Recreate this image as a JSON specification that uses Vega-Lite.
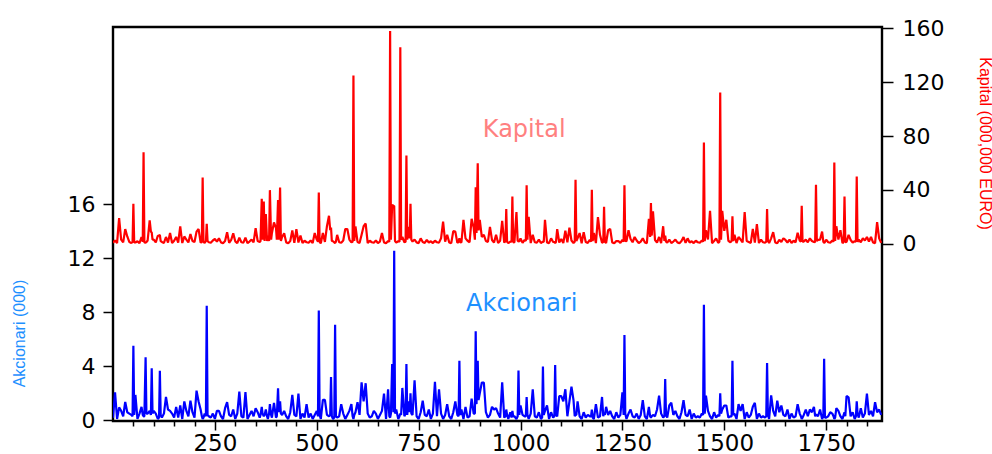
{
"$schema": "https://vega.github.io/schema/vega-lite/v6.json",
"width": 769,
"height": 394,
"autosize": {"type": "none"},
"padding": {"left": 113, "top": 27, "right": 110, "bottom": 33},
"background": "white",
"config": {
  "view": {"stroke": "black", "strokeWidth": 2.4},
  "axis": {"grid": false, "domain": false, "tickColor": "black", "labelColor": "black", "labelFont": "DejaVu Sans", "tickWidth": 1.5}
},
"data": {"values": [
{"x":0,"a":0.2,"k":0.8},{"x":5,"a":2.07,"k":2.4},{"x":10,"a":0.1,"k":0.5},{"x":15,"a":0.96,"k":19},{"x":20,"a":0.7,"k":3.1},{"x":25,"a":0.3,"k":1.0},{"x":30,"a":1.36,"k":10.9},{"x":35,"a":0.6,"k":5.4},{"x":40,"a":0.5,"k":1.3},{"x":45,"a":0.4,"k":0.6},
{"x":50,"a":5.53,"k":29.7},{"x":55,"a":1.88,"k":0.9},{"x":60,"a":0.1,"k":1.8},{"x":65,"a":0.5,"k":0.5},{"x":70,"a":1.0,"k":5},{"x":75,"a":0.3,"k":68},{"x":80,"a":4.67,"k":0.8},{"x":85,"a":0.5,"k":2.4},{"x":90,"a":0.7,"k":17.3},{"x":95,"a":3.85,"k":8.4},
{"x":100,"a":0.7,"k":3.1},{"x":105,"a":0.5,"k":1.0},{"x":110,"a":0.1,"k":5.9},{"x":115,"a":3.68,"k":6.6},{"x":120,"a":0.2,"k":1.3},{"x":125,"a":0.5,"k":0.6},{"x":130,"a":1.73,"k":5},{"x":135,"a":0.8,"k":0.9},{"x":140,"a":0.7,"k":7.9},{"x":145,"a":0.5,"k":0.5},
{"x":150,"a":0.2,"k":2.2},{"x":155,"a":1.0,"k":5},{"x":160,"a":0.2,"k":0.8},{"x":165,"a":1.1,"k":12.9},{"x":170,"a":0.1,"k":0.5},{"x":175,"a":1.4,"k":5.4},{"x":180,"a":0.7,"k":3.1},{"x":185,"a":0.3,"k":1.0},{"x":190,"a":1.45,"k":7.2},{"x":195,"a":0.6,"k":2.0},
{"x":200,"a":0.2,"k":1.3},{"x":205,"a":2.2,"k":9},{"x":210,"a":1.4,"k":10.9},{"x":215,"a":0.8,"k":0.9},{"x":220,"a":0.1,"k":49.2},{"x":225,"a":0.5,"k":0.5},{"x":230,"a":8.5,"k":14.8},{"x":235,"a":0.3,"k":1.1},{"x":240,"a":0.2,"k":0.8},{"x":245,"a":0.5,"k":2.4},
{"x":250,"a":0.1,"k":3.5},{"x":255,"a":0.7,"k":1.6},{"x":260,"a":0.7,"k":4},{"x":265,"a":0.3,"k":1.0},{"x":270,"a":0.1,"k":0.4},{"x":275,"a":0.9,"k":2.0},{"x":280,"a":1.35,"k":8.6},{"x":285,"a":0.4,"k":0.6},{"x":290,"a":0.3,"k":2.8},{"x":295,"a":0.8,"k":7.7},
{"x":300,"a":0.1,"k":1.8},{"x":305,"a":0.5,"k":0.5},{"x":310,"a":2.13,"k":4.5},{"x":315,"a":0.3,"k":1.1},{"x":320,"a":0.2,"k":0.8},{"x":325,"a":2.1,"k":4.5},{"x":330,"a":0.1,"k":0.5},{"x":335,"a":0.4,"k":1.6},{"x":340,"a":0.7,"k":3.1},{"x":345,"a":0.3,"k":1.0},
{"x":350,"a":0.9,"k":11.6},{"x":355,"a":0.6,"k":2.0},{"x":360,"a":0.2,"k":1.3},{"x":365,"a":1.0,"k":33.4},{"x":370,"a":0.3,"k":31.4},{"x":375,"a":0.8,"k":22},{"x":380,"a":0.1,"k":6},{"x":385,"a":1.2,"k":39.8},{"x":390,"a":0.2,"k":8},{"x":395,"a":1.3,"k":15.8},
{"x":400,"a":0.2,"k":11.6},{"x":405,"a":2.37,"k":32.4},{"x":410,"a":1.4,"k":41.8},{"x":415,"a":0.4,"k":5},{"x":420,"a":0.7,"k":7.8},{"x":425,"a":0.3,"k":1.0},{"x":430,"a":0.1,"k":0.4},{"x":435,"a":0.6,"k":2.0},{"x":440,"a":1.88,"k":9.8},{"x":445,"a":0.4,"k":0.6},
{"x":450,"a":0.3,"k":10.9},{"x":455,"a":1.98,"k":0.9},{"x":460,"a":0.1,"k":6},{"x":465,"a":0.5,"k":0.5},{"x":470,"a":0.2,"k":2.2},{"x":475,"a":1.2,"k":1.1},{"x":480,"a":0.2,"k":0.8},{"x":485,"a":0.5,"k":2.4},{"x":490,"a":0.1,"k":0.5},{"x":495,"a":0.4,"k":7.9},
{"x":500,"a":0.7,"k":3.1},{"x":505,"a":8.13,"k":38},{"x":510,"a":0.1,"k":0.4},{"x":515,"a":1.52,"k":8},{"x":520,"a":1.52,"k":1.3},{"x":525,"a":0.4,"k":13},{"x":530,"a":0.3,"k":20.8},{"x":535,"a":3.21,"k":12},{"x":540,"a":0.1,"k":1.8},{"x":545,"a":7.09,"k":0.5},
{"x":550,"a":0.2,"k":6.6},{"x":555,"a":0.3,"k":1.1},{"x":560,"a":1.2,"k":0.8},{"x":565,"a":0.5,"k":2.4},{"x":570,"a":0.1,"k":10.9},{"x":575,"a":0.4,"k":10.9},{"x":580,"a":0.7,"k":3.1},{"x":585,"a":1.2,"k":1.0},{"x":590,"a":0.1,"k":124.9},{"x":595,"a":0.6,"k":12.8},
{"x":600,"a":1.35,"k":1.3},{"x":605,"a":0.4,"k":0.6},{"x":610,"a":2.81,"k":6.6},{"x":615,"a":1.4,"k":13},{"x":620,"a":2.75,"k":15},{"x":625,"a":0.5,"k":0.5},{"x":630,"a":0.2,"k":2.2},{"x":635,"a":0.3,"k":1.1},{"x":640,"a":0.7,"k":0.8},{"x":645,"a":0.5,"k":2.4},
{"x":650,"a":0.1,"k":0.5},{"x":655,"a":0.4,"k":1.6},{"x":660,"a":0.7,"k":7.9},{"x":665,"a":1.98,"k":1.0},{"x":670,"a":0.1,"k":0.4},{"x":675,"a":2.3,"k":2.0},{"x":680,"a":0.2,"k":158},{"x":685,"a":4.18,"k":28.9},{"x":690,"a":12.57,"k":28.2},{"x":695,"a":0.8,"k":0.9},
{"x":700,"a":0.1,"k":1.8},{"x":705,"a":0.5,"k":146},{"x":710,"a":2.4,"k":5},{"x":715,"a":0.3,"k":1.1},{"x":720,"a":4.18,"k":65.5},{"x":725,"a":1.4,"k":12.5},{"x":730,"a":2.0,"k":29.7},{"x":735,"a":0.4,"k":1.6},{"x":740,"a":2.96,"k":3.1},{"x":745,"a":0.3,"k":1.0},
{"x":750,"a":0.1,"k":0.4},{"x":755,"a":0.6,"k":4},{"x":760,"a":1.45,"k":1.3},{"x":765,"a":0.4,"k":0.6},{"x":770,"a":0.3,"k":2.8},{"x":775,"a":0.8,"k":0.9},{"x":780,"a":0.1,"k":1.8},{"x":785,"a":0.5,"k":0.5},{"x":790,"a":2.86,"k":2.2},{"x":795,"a":0.3,"k":1.1},
{"x":800,"a":2.3,"k":0.8},{"x":805,"a":0.5,"k":4},{"x":810,"a":0.1,"k":16.5},{"x":815,"a":0.4,"k":1.6},{"x":820,"a":1.2,"k":6.6},{"x":825,"a":0.3,"k":1.0},{"x":830,"a":0.1,"k":0.4},{"x":835,"a":0.6,"k":9.4},{"x":840,"a":1.4,"k":9},{"x":845,"a":0.4,"k":0.6},
{"x":850,"a":4.42,"k":4},{"x":855,"a":0.8,"k":0.9},{"x":860,"a":0.1,"k":17.8},{"x":865,"a":1.0,"k":4},{"x":870,"a":0.2,"k":2.2},{"x":875,"a":0.3,"k":1.1},{"x":880,"a":1.6,"k":18.5},{"x":885,"a":0.5,"k":12},{"x":890,"a":6.6,"k":42},{"x":895,"a":4.42,"k":59.8},
{"x":900,"a":2.0,"k":17.8},{"x":905,"a":2.8,"k":5},{"x":910,"a":2.8,"k":6.6},{"x":915,"a":0.6,"k":2.0},{"x":920,"a":0.2,"k":1.3},{"x":925,"a":0.4,"k":12.5},{"x":930,"a":1.0,"k":2.8},{"x":935,"a":0.8,"k":0.9},{"x":940,"a":0.9,"k":6.6},{"x":945,"a":0.5,"k":0.5},
{"x":950,"a":0.2,"k":2.2},{"x":955,"a":2.81,"k":17},{"x":960,"a":0.2,"k":0.8},{"x":965,"a":0.8,"k":25.7},{"x":970,"a":0.1,"k":0.5},{"x":975,"a":0.6,"k":1.6},{"x":980,"a":0.7,"k":35},{"x":985,"a":0.3,"k":1.0},{"x":990,"a":0.1,"k":23.5},{"x":995,"a":3.7,"k":2.0},
{"x":1000,"a":1.1,"k":4},{"x":1005,"a":0.4,"k":0.6},{"x":1010,"a":0.3,"k":2.8},{"x":1015,"a":1.73,"k":43.5},{"x":1020,"a":0.1,"k":20},{"x":1025,"a":0.5,"k":0.5},{"x":1030,"a":2.3,"k":6.6},{"x":1035,"a":0.3,"k":1.1},{"x":1040,"a":0.2,"k":0.8},{"x":1045,"a":0.6,"k":3},
{"x":1050,"a":0.1,"k":0.5},{"x":1055,"a":3.98,"k":1.6},{"x":1060,"a":0.7,"k":17.8},{"x":1065,"a":1.1,"k":1.0},{"x":1070,"a":0.1,"k":0.4},{"x":1075,"a":0.6,"k":4},{"x":1080,"a":0.2,"k":1.3},{"x":1085,"a":4.1,"k":0.6},{"x":1090,"a":0.3,"k":10.9},{"x":1095,"a":1.8,"k":0.9},
{"x":1100,"a":1.8,"k":3.5},{"x":1105,"a":1.4,"k":0.5},{"x":1110,"a":2.3,"k":9.6},{"x":1115,"a":0.3,"k":1.1},{"x":1120,"a":1.4,"k":12},{"x":1125,"a":2.5,"k":2.4},{"x":1130,"a":1.5,"k":0.5},{"x":1135,"a":0.4,"k":47.5},{"x":1140,"a":1.4,"k":4},{"x":1145,"a":0.3,"k":7.9},
{"x":1150,"a":0.1,"k":0.4},{"x":1155,"a":0.6,"k":8.6},{"x":1160,"a":0.2,"k":1.3},{"x":1165,"a":0.4,"k":0.6},{"x":1170,"a":0.3,"k":2.8},{"x":1175,"a":0.8,"k":40},{"x":1180,"a":0.1,"k":7.9},{"x":1185,"a":1.2,"k":0.5},{"x":1190,"a":0.2,"k":19.8},{"x":1195,"a":0.3,"k":6.6},
{"x":1200,"a":1.73,"k":0.8},{"x":1205,"a":0.5,"k":27.5},{"x":1210,"a":1.0,"k":0.5},{"x":1215,"a":0.4,"k":10},{"x":1220,"a":0.7,"k":11},{"x":1225,"a":0.3,"k":1.0},{"x":1230,"a":0.1,"k":0.4},{"x":1235,"a":0.6,"k":2.0},{"x":1240,"a":0.2,"k":2},{"x":1245,"a":0.4,"k":0.6},
{"x":1250,"a":2.07,"k":2.8},{"x":1255,"a":6.32,"k":43.5},{"x":1260,"a":0.1,"k":1.8},{"x":1265,"a":0.5,"k":10},{"x":1270,"a":0.8,"k":3.5},{"x":1275,"a":0.3,"k":1.1},{"x":1280,"a":0.2,"k":5},{"x":1285,"a":0.5,"k":2.4},{"x":1290,"a":0.1,"k":0.5},{"x":1295,"a":0.4,"k":1.6},
{"x":1300,"a":1.5,"k":4},{"x":1305,"a":0.3,"k":1.0},{"x":1310,"a":0.1,"k":0.4},{"x":1315,"a":1.0,"k":18.5},{"x":1320,"a":0.2,"k":30.2},{"x":1325,"a":0.4,"k":24},{"x":1330,"a":0.3,"k":2.8},{"x":1335,"a":0.8,"k":0.9},{"x":1340,"a":1.83,"k":5},{"x":1345,"a":0.5,"k":0.5},
{"x":1350,"a":0.2,"k":13},{"x":1355,"a":3.06,"k":6},{"x":1360,"a":0.2,"k":0.8},{"x":1365,"a":1.1,"k":3},{"x":1370,"a":1.3,"k":0.5},{"x":1375,"a":0.4,"k":1.6},{"x":1380,"a":0.7,"k":3},{"x":1385,"a":0.3,"k":1.0},{"x":1390,"a":0.1,"k":0.4},{"x":1395,"a":0.6,"k":2.0},
{"x":1400,"a":1.5,"k":5},{"x":1405,"a":0.4,"k":0.6},{"x":1410,"a":0.3,"k":4},{"x":1415,"a":0.8,"k":0.9},{"x":1420,"a":0.1,"k":1.8},{"x":1425,"a":0.5,"k":0.5},{"x":1430,"a":0.2,"k":2.2},{"x":1435,"a":0.3,"k":1.1},{"x":1440,"a":0.2,"k":0.8},{"x":1445,"a":0.5,"k":2.4},
{"x":1450,"a":8.57,"k":75.2},{"x":1455,"a":1.83,"k":10},{"x":1460,"a":0.7,"k":3.1},{"x":1465,"a":0.3,"k":24.5},{"x":1470,"a":0.1,"k":0.4},{"x":1475,"a":0.6,"k":2.0},{"x":1480,"a":0.2,"k":4},{"x":1485,"a":0.4,"k":0.6},{"x":1490,"a":2.0,"k":112.3},{"x":1495,"a":0.8,"k":24.5},
{"x":1500,"a":1.1,"k":9.6},{"x":1505,"a":1.1,"k":17.8},{"x":1510,"a":0.2,"k":2.2},{"x":1515,"a":0.3,"k":1.1},{"x":1520,"a":4.42,"k":20.3},{"x":1525,"a":0.5,"k":6.6},{"x":1530,"a":0.1,"k":0.5},{"x":1535,"a":1.2,"k":5},{"x":1540,"a":0.7,"k":3.1},{"x":1545,"a":1.2,"k":1.0},
{"x":1550,"a":0.1,"k":23.5},{"x":1555,"a":0.6,"k":2.0},{"x":1560,"a":0.2,"k":1.3},{"x":1565,"a":0.4,"k":0.6},{"x":1570,"a":1.0,"k":11},{"x":1575,"a":1.3,"k":0.9},{"x":1580,"a":0.1,"k":14.5},{"x":1585,"a":0.5,"k":0.5},{"x":1590,"a":0.2,"k":3},{"x":1595,"a":0.3,"k":1.1},
{"x":1600,"a":0.2,"k":0.8},{"x":1605,"a":4.25,"k":25.7},{"x":1610,"a":0.1,"k":0.5},{"x":1615,"a":1.85,"k":4},{"x":1620,"a":0.7,"k":8.6},{"x":1625,"a":0.3,"k":1.0},{"x":1630,"a":1.45,"k":0.4},{"x":1635,"a":0.6,"k":3},{"x":1640,"a":1.1,"k":1.3},{"x":1645,"a":0.4,"k":4},
{"x":1650,"a":0.3,"k":2.8},{"x":1655,"a":0.8,"k":0.9},{"x":1660,"a":0.1,"k":3},{"x":1665,"a":0.5,"k":0.5},{"x":1670,"a":0.2,"k":2.2},{"x":1675,"a":0.3,"k":1.1},{"x":1680,"a":1.2,"k":8.2},{"x":1685,"a":0.5,"k":2.4},{"x":1690,"a":0.1,"k":28.2},{"x":1695,"a":0.4,"k":1.6},
{"x":1700,"a":0.8,"k":3},{"x":1705,"a":0.3,"k":1.0},{"x":1710,"a":0.8,"k":4},{"x":1715,"a":0.6,"k":2.0},{"x":1720,"a":1.0,"k":1.3},{"x":1725,"a":0.4,"k":43.8},{"x":1730,"a":0.3,"k":2.8},{"x":1735,"a":0.8,"k":3},{"x":1740,"a":0.1,"k":9},{"x":1745,"a":4.57,"k":0.5},
{"x":1750,"a":0.2,"k":3},{"x":1755,"a":0.3,"k":1.1},{"x":1760,"a":0.6,"k":0.8},{"x":1765,"a":0.5,"k":2.4},{"x":1770,"a":0.1,"k":60.3},{"x":1775,"a":0.9,"k":13},{"x":1780,"a":0.7,"k":3.1},{"x":1785,"a":0.3,"k":10},{"x":1790,"a":0.1,"k":0.4},{"x":1795,"a":0.6,"k":35},
{"x":1800,"a":1.8,"k":1.3},{"x":1805,"a":1.7,"k":6.6},{"x":1810,"a":0.3,"k":2.8},{"x":1815,"a":0.6,"k":0.9},{"x":1820,"a":0.1,"k":1.8},{"x":1825,"a":1.4,"k":50},{"x":1830,"a":0.2,"k":3},{"x":1835,"a":0.9,"k":1.1},{"x":1840,"a":0.2,"k":4},{"x":1845,"a":0.5,"k":2.4},
{"x":1850,"a":1.98,"k":5},{"x":1855,"a":0.4,"k":1.6},{"x":1860,"a":0.7,"k":5},{"x":1865,"a":0.3,"k":1.0},{"x":1870,"a":1.35,"k":0.4},{"x":1875,"a":0.6,"k":16},{"x":1880,"a":0.8,"k":4},{"x":1885,"a":0.4,"k":0.6},
{"x":48,"a":0.3,"k":1.2},{"x":52,"a":0.4,"k":0.9},{"x":73,"a":0.4,"k":1.5},{"x":77,"a":0.3,"k":1.0},{"x":82,"a":0.5,"k":1.2},{"x":93,"a":0.4,"k":9},{"x":97,"a":0.5,"k":3},{"x":113,"a":0.2,"k":6},{"x":117,"a":0.4,"k":2},
{"x":218,"a":0.3,"k":1.2},{"x":222,"a":0.2,"k":1.5},{"x":228,"a":0.3,"k":2},{"x":232,"a":0.4,"k":2},
{"x":362,"a":0.4,"k":2},{"x":367,"a":0.5,"k":3},{"x":372,"a":0.4,"k":2},{"x":378,"a":0.3,"k":2},{"x":383,"a":0.5,"k":2},{"x":388,"a":0.4,"k":3},{"x":402,"a":0.3,"k":3},{"x":407,"a":0.6,"k":3},{"x":412,"a":0.5,"k":2},
{"x":503,"a":0.3,"k":1.5},{"x":507,"a":0.4,"k":1.2},{"x":533,"a":0.4,"k":10},{"x":537,"a":0.3,"k":2},{"x":543,"a":0.2,"k":1},{"x":547,"a":0.3,"k":1.5},
{"x":588,"a":0.3,"k":1.5},{"x":592,"a":0.4,"k":2},{"x":678,"a":0.3,"k":1.5},{"x":682,"a":0.5,"k":3},{"x":688,"a":0.6,"k":28},{"x":692,"a":0.5,"k":2},{"x":703,"a":0.3,"k":1.4},{"x":707,"a":0.4,"k":3},{"x":718,"a":0.5,"k":1.5},{"x":722,"a":0.4,"k":3},
{"x":728,"a":0.6,"k":4},{"x":732,"a":0.5,"k":3},{"x":848,"a":0.3,"k":1.5},{"x":852,"a":0.4,"k":1.2},{"x":888,"a":0.5,"k":3},{"x":892,"a":1.2,"k":8},{"x":897,"a":1.5,"k":10},{"x":963,"a":0.3,"k":2},{"x":967,"a":0.4,"k":1.5},{"x":978,"a":0.2,"k":1.5},{"x":982,"a":0.3,"k":1.2},
{"x":993,"a":0.3,"k":2},{"x":997,"a":0.4,"k":1.5},{"x":1013,"a":0.3,"k":2},{"x":1017,"a":0.4,"k":3},{"x":1053,"a":0.2,"k":1.2},{"x":1057,"a":0.4,"k":1.4},{"x":1083,"a":0.3,"k":1.2},{"x":1087,"a":0.4,"k":1.3},{"x":1133,"a":0.3,"k":1.5},{"x":1137,"a":0.4,"k":2},
{"x":1173,"a":0.3,"k":1.5},{"x":1177,"a":0.2,"k":2},{"x":1203,"a":0.3,"k":1.2},{"x":1207,"a":0.4,"k":1.5},{"x":1253,"a":0.4,"k":1.5},{"x":1257,"a":0.5,"k":2},{"x":1318,"a":0.3,"k":5},{"x":1322,"a":0.3,"k":6},{"x":1353,"a":0.3,"k":2},{"x":1357,"a":0.4,"k":1.5},
{"x":1448,"a":0.4,"k":1.5},{"x":1452,"a":0.5,"k":2},{"x":1488,"a":0.3,"k":1.5},{"x":1492,"a":0.5,"k":3},{"x":1518,"a":0.3,"k":2},{"x":1522,"a":0.4,"k":2},{"x":1603,"a":0.3,"k":1.5},{"x":1607,"a":0.4,"k":2},{"x":1688,"a":0.3,"k":1.4},{"x":1692,"a":0.2,"k":1.5},
{"x":1723,"a":0.3,"k":1.2},{"x":1727,"a":0.4,"k":2},{"x":1743,"a":0.3,"k":1.5},{"x":1747,"a":0.2,"k":1.2},{"x":1768,"a":0.3,"k":1.5},{"x":1772,"a":0.2,"k":2},{"x":1793,"a":0.4,"k":1.5},{"x":1797,"a":0.3,"k":1.2},{"x":1823,"a":0.3,"k":1.5},{"x":1827,"a":0.5,"k":1.4}
]},
"layer": [
  {"mark": {"type": "line", "color": "#0000FF", "strokeWidth": 2.2, "strokeJoin": "bevel", "clip": true},
   "encoding": {
     "x": {"field": "x", "type": "quantitative", "scale": {"domain": [0, 1887], "nice": false, "zero": false},
           "axis": {"title": null, "values": [50,100,150,200,250,300,350,400,450,500,550,600,650,700,750,800,850,900,950,1000,1050,1100,1150,1200,1250,1300,1350,1400,1450,1500,1550,1600,1650,1700,1750,1800,1850],
                    "format": "d", "labelExpr": "datum.value % 250 === 0 ? datum.label : ''",
                    "tickSize": {"condition": {"test": "datum.value % 250 === 0", "value": 9}, "value": 5},
                    "labelPadding": 2, "labelFontSize": 23, "labelOverlap": false, "labelFlush": false}},
     "y": {"field": "a", "type": "quantitative", "scale": {"domain": [-0.05, 29.15], "nice": false, "zero": false},
           "axis": {"orient": "left", "values": [0, 4, 8, 12, 16], "tickSize": 10, "labelPadding": 8, "labelFontSize": 22,
                    "title": "Akcionari (000)", "titleColor": "#1E90FF", "titleFont": "Liberation Sans", "titleFontSize": 16, "titleFontWeight": "normal",
                    "titleAngle": 270, "titleX": -94, "titleY": 306, "titleAlign": "center", "titleBaseline": "middle"}}
   }},
  {"mark": {"type": "line", "color": "#FF0000", "strokeWidth": 2.2, "strokeJoin": "bevel", "clip": true},
   "encoding": {
     "x": {"field": "x", "type": "quantitative", "scale": {"domain": [0, 1887], "nice": false, "zero": false},
           "axis": {"title": null, "values": [50,100,150,200,250,300,350,400,450,500,550,600,650,700,750,800,850,900,950,1000,1050,1100,1150,1200,1250,1300,1350,1400,1450,1500,1550,1600,1650,1700,1750,1800,1850],
                    "format": "d", "labelExpr": "datum.value % 250 === 0 ? datum.label : ''",
                    "tickSize": {"condition": {"test": "datum.value % 250 === 0", "value": 9}, "value": 5},
                    "labelPadding": 2, "labelFontSize": 23, "labelOverlap": false, "labelFlush": false}},
     "y": {"field": "k", "type": "quantitative", "scale": {"domain": [-131.7, 161], "nice": false, "zero": false},
           "axis": {"orient": "right", "values": [0, 40, 80, 120, 160], "tickSize": 11, "labelPadding": 9, "labelFontSize": 22,
                    "title": "Kapital (000,000 EURO)", "titleColor": "#FF0000", "titleFont": "Liberation Sans", "titleFontSize": 16, "titleFontWeight": "normal",
                    "titleAngle": 90, "titleX": 102, "titleY": 116, "titleAlign": "center", "titleBaseline": "middle"}}
   }},
  {"data": {"values": [{"x": 1003, "a": 8.64, "t": "Akcionari"}]},
   "mark": {"type": "text", "color": "#1E90FF", "font": "DejaVu Sans", "fontSize": 24, "align": "center", "baseline": "middle"},
   "encoding": {
     "x": {"field": "x", "type": "quantitative", "scale": {"domain": [0, 1887], "nice": false, "zero": false},
           "axis": {"title": null, "values": [50,100,150,200,250,300,350,400,450,500,550,600,650,700,750,800,850,900,950,1000,1050,1100,1150,1200,1250,1300,1350,1400,1450,1500,1550,1600,1650,1700,1750,1800,1850],
                    "format": "d", "labelExpr": "datum.value % 250 === 0 ? datum.label : ''",
                    "tickSize": {"condition": {"test": "datum.value % 250 === 0", "value": 9}, "value": 5},
                    "labelPadding": 2, "labelFontSize": 23, "labelOverlap": false, "labelFlush": false}},
     "y": {"field": "a", "type": "quantitative", "scale": {"domain": [-0.05, 29.15], "nice": false, "zero": false}, "axis": null},
     "text": {"field": "t"}
   }},
  {"data": {"values": [{"x": 1009, "k": 84.2, "t": "Kapital"}]},
   "mark": {"type": "text", "color": "#FF8080", "font": "DejaVu Sans", "fontSize": 24, "align": "center", "baseline": "middle"},
   "encoding": {
     "x": {"field": "x", "type": "quantitative", "scale": {"domain": [0, 1887], "nice": false, "zero": false},
           "axis": {"title": null, "values": [50,100,150,200,250,300,350,400,450,500,550,600,650,700,750,800,850,900,950,1000,1050,1100,1150,1200,1250,1300,1350,1400,1450,1500,1550,1600,1650,1700,1750,1800,1850],
                    "format": "d", "labelExpr": "datum.value % 250 === 0 ? datum.label : ''",
                    "tickSize": {"condition": {"test": "datum.value % 250 === 0", "value": 9}, "value": 5},
                    "labelPadding": 2, "labelFontSize": 23, "labelOverlap": false, "labelFlush": false}},
     "y": {"field": "k", "type": "quantitative", "scale": {"domain": [-131.7, 161], "nice": false, "zero": false}, "axis": null},
     "text": {"field": "t"}
   }}
],
"resolve": {"scale": {"y": "independent"}}
}
